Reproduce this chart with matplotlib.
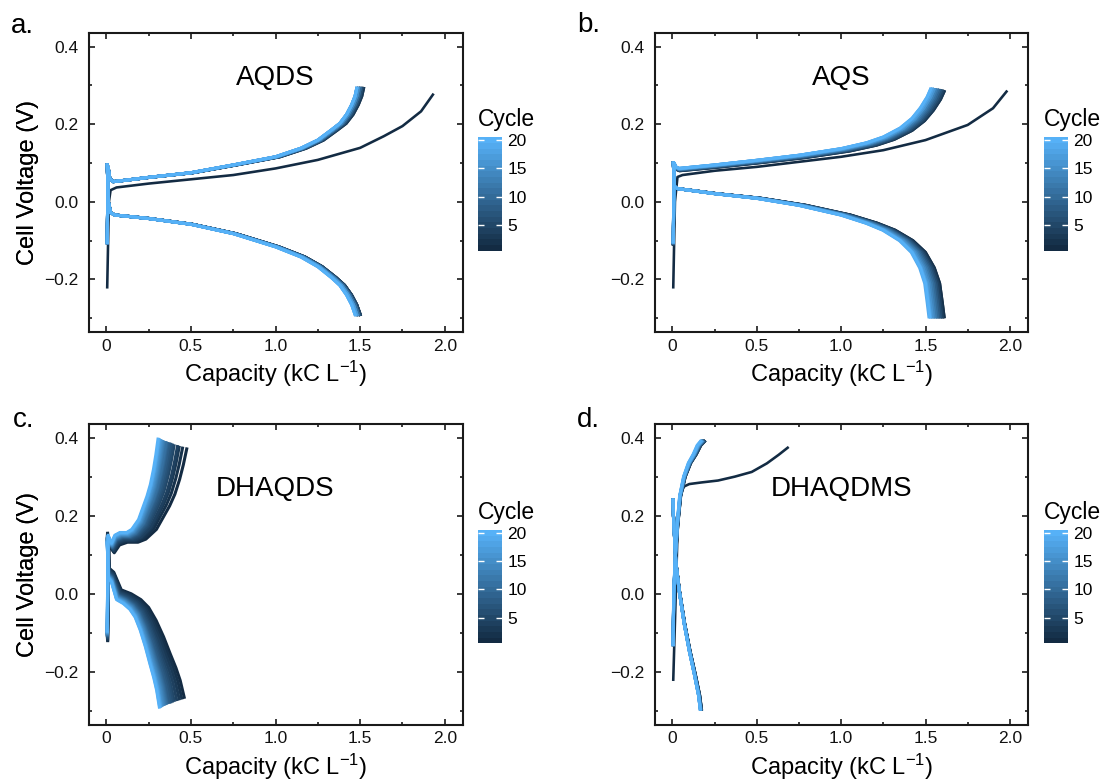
import numpy as np
import matplotlib
matplotlib.use('Agg')
import matplotlib.pyplot as plt
from matplotlib.colors import LinearSegmentedColormap, Normalize
from matplotlib.cm import ScalarMappable

plt.rcParams['font.family'] = ['Liberation Sans', 'DejaVu Sans']
plt.rcParams['mathtext.fontset'] = 'custom'
plt.rcParams['mathtext.rm'] = 'Liberation Sans'
plt.rcParams['mathtext.it'] = 'Liberation Sans:italic'

cycles = list(range(1, 21))

# ---- AQDS (a) ----
aqds_chg1_cap = [0.005, 0.015, 0.025, 0.06, 0.25, 0.5, 0.75, 1.0, 1.25, 1.5, 1.64, 1.75, 1.86, 1.93]
aqds_chg1_v = [-0.22, 0.0, 0.03, 0.037, 0.047, 0.058, 0.069, 0.086, 0.108, 0.139, 0.169, 0.195, 0.233, 0.276]
aqds_chg_cap = [0.005, 0.01, 0.02, 0.04, 0.1, 0.25, 0.5, 0.75, 1.0, 1.15, 1.25, 1.33, 1.38, 1.42, 1.45, 1.47, 1.48]
aqds_chg_v = [-0.105, 0.09, 0.06, 0.052, 0.055, 0.063, 0.075, 0.095, 0.116, 0.138, 0.159, 0.185, 0.202, 0.225, 0.25, 0.272, 0.292]
aqds_dis_cap = [0.005, 0.012, 0.025, 0.05, 0.25, 0.5, 0.75, 1.0, 1.15, 1.25, 1.33, 1.38, 1.42, 1.45, 1.47]
aqds_dis_v = [0.095, 0.0, -0.028, -0.034, -0.043, -0.058, -0.082, -0.116, -0.142, -0.167, -0.195, -0.215, -0.24, -0.265, -0.29]
aqds_chg_end = [1.93, 1.52, 1.52, 1.51, 1.51, 1.51, 1.50, 1.50, 1.50, 1.50,
                1.49, 1.49, 1.49, 1.49, 1.49, 1.48, 1.48, 1.48, 1.48, 1.48]
aqds_dis_end = [1.50, 1.50, 1.50, 1.50, 1.50, 1.49, 1.49, 1.49, 1.49, 1.49,
                1.49, 1.48, 1.48, 1.48, 1.48, 1.48, 1.48, 1.47, 1.47, 1.47]

# ---- AQS (b) ----
aqs_chg1_cap = [0.005, 0.015, 0.03, 0.06, 0.25, 0.5, 0.75, 1.0, 1.25, 1.5, 1.75, 1.9, 1.98]
aqs_chg1_v = [-0.22, 0.0, 0.064, 0.069, 0.08, 0.09, 0.103, 0.116, 0.133, 0.159, 0.198, 0.241, 0.284]
aqs_chg_cap = [0.005, 0.01, 0.02, 0.04, 0.25, 0.5, 0.75, 1.0, 1.15, 1.25, 1.35, 1.42, 1.47, 1.51, 1.53]
aqs_chg_v = [-0.103, 0.1, 0.09, 0.086, 0.095, 0.107, 0.12, 0.137, 0.152, 0.167, 0.19, 0.215, 0.242, 0.27, 0.29]
aqs_dis_cap = [0.005, 0.012, 0.03, 0.25, 0.5, 0.75, 1.0, 1.15, 1.25, 1.35, 1.42, 1.47, 1.5, 1.515, 1.525]
aqs_dis_v = [0.1, 0.04, 0.034, 0.021, 0.009, -0.009, -0.034, -0.055, -0.073, -0.1, -0.13, -0.17, -0.21, -0.26, -0.296]
aqs_chg_end = [1.98, 1.61, 1.61, 1.60, 1.60, 1.59, 1.59, 1.58, 1.58, 1.57,
               1.57, 1.56, 1.56, 1.55, 1.55, 1.55, 1.54, 1.54, 1.53, 1.53]
aqs_dis_end = [1.61, 1.61, 1.60, 1.60, 1.59, 1.59, 1.58, 1.58, 1.57, 1.57,
               1.56, 1.56, 1.55, 1.55, 1.54, 1.54, 1.53, 1.53, 1.52, 1.525]
aqs_chg_shift = [0.0, -0.006, -0.006, -0.005, -0.005, -0.004, -0.004, -0.003, -0.003, -0.003,
                 -0.002, -0.002, -0.002, -0.001, -0.001, -0.001, 0.0, 0.0, 0.0, 0.0]

# ---- DHAQDS (c) ----
dhaqds_chg_cap = [0.005, 0.01, 0.02, 0.03, 0.05, 0.08, 0.12, 0.15, 0.19, 0.215, 0.24, 0.26, 0.278, 0.292, 0.305]
dhaqds_chg_v = [-0.095, 0.15, 0.14, 0.13, 0.15, 0.157, 0.157, 0.165, 0.19, 0.22, 0.25, 0.28, 0.318, 0.355, 0.396]
dhaqds_dis_cap = [0.005, 0.012, 0.03, 0.06, 0.1, 0.139, 0.17, 0.2, 0.23, 0.257, 0.28, 0.297, 0.313]
dhaqds_dis_v = [0.13, 0.04, 0.03, -0.015, -0.025, -0.04, -0.06, -0.093, -0.135, -0.179, -0.215, -0.247, -0.29]
dhaqds_chg_end = [0.475, 0.45, 0.43, 0.42, 0.40, 0.39, 0.38, 0.37, 0.36, 0.355,
                  0.35, 0.34, 0.335, 0.33, 0.325, 0.32, 0.315, 0.31, 0.31, 0.305]
dhaqds_dis_end = [0.46, 0.445, 0.43, 0.415, 0.40, 0.39, 0.38, 0.37, 0.36, 0.355,
                  0.35, 0.345, 0.34, 0.335, 0.33, 0.325, 0.32, 0.32, 0.315, 0.313]
dhaqds_chg_shift = [-0.025, -0.023, -0.021, -0.019, -0.017, -0.015, -0.013, -0.012, -0.011, -0.010,
                    -0.009, -0.008, -0.007, -0.006, -0.005, -0.004, -0.003, -0.002, -0.001, 0.0]
dhaqds_dis_shift = [0.025, 0.023, 0.021, 0.019, 0.017, 0.015, 0.013, 0.012, 0.011, 0.010,
                    0.009, 0.008, 0.007, 0.006, 0.005, 0.004, 0.003, 0.002, 0.001, 0.0]

# ---- DHAQDMS (d) ----
dhaqdms_chg1_cap = [0.005, 0.02, 0.033, 0.045, 0.07, 0.1, 0.17, 0.27, 0.37, 0.47, 0.56, 0.63, 0.683]
dhaqdms_chg1_v = [-0.22, 0.0, 0.2, 0.255, 0.275, 0.281, 0.285, 0.29, 0.3, 0.312, 0.334, 0.356, 0.374]
dhaqdms_chg_cap = [0.004, 0.008, 0.018, 0.03, 0.045, 0.07, 0.1, 0.13, 0.155, 0.175]
dhaqdms_chg_v = [-0.13, 0.0, 0.1, 0.18, 0.25, 0.3, 0.335, 0.357, 0.38, 0.39]
dhaqdms_dis_cap = [0.004, 0.006, 0.02, 0.04, 0.07, 0.1, 0.13, 0.155, 0.165]
dhaqdms_dis_v = [0.24, 0.2, 0.08, 0.008, -0.077, -0.146, -0.206, -0.26, -0.295]
dhaqdms_chg_end = [0.683, 0.19, 0.19, 0.188, 0.186, 0.185, 0.183, 0.182, 0.18, 0.179,
                   0.178, 0.177, 0.176, 0.175, 0.174, 0.173, 0.172, 0.17, 0.168, 0.165]
dhaqdms_dis_end = [0.172, 0.172, 0.171, 0.171, 0.170, 0.170, 0.169, 0.169, 0.168, 0.168,
                   0.167, 0.167, 0.166, 0.166, 0.166, 0.165, 0.165, 0.165, 0.165, 0.165]

zeros = [0.0] * 20

panels = [
    ('a.', 'AQDS', 0.30, aqds_chg1_cap, aqds_chg1_v, aqds_chg_cap, aqds_chg_v, aqds_dis_cap, aqds_dis_v,
     aqds_chg_end, aqds_dis_end, zeros, zeros),
    ('b.', 'AQS', 0.30, aqs_chg1_cap, aqs_chg1_v, aqs_chg_cap, aqs_chg_v, aqs_dis_cap, aqs_dis_v,
     aqs_chg_end, aqs_dis_end, aqs_chg_shift, zeros),
    ('c.', 'DHAQDS', 0.25, None, None, dhaqds_chg_cap, dhaqds_chg_v, dhaqds_dis_cap, dhaqds_dis_v,
     dhaqds_chg_end, dhaqds_dis_end, dhaqds_chg_shift, dhaqds_dis_shift),
    ('d.', 'DHAQDMS', 0.25, dhaqdms_chg1_cap, dhaqdms_chg1_v, dhaqdms_chg_cap, dhaqdms_chg_v,
     dhaqdms_dis_cap, dhaqdms_dis_v, dhaqdms_chg_end, dhaqdms_dis_end, zeros, zeros),
]

W, H = 1106, 780
# axes boxes in pixels: left, top, right, bottom
ax_px = [(88.6, 33.3, 462.5, 332.3), (654.7, 33.3, 1027.6, 332.3),
         (88.6, 424.3, 462.5, 725.0), (654.7, 424.3, 1027.6, 725.0)]
cb_px = [(478, 137.3, 502, 250.7), (1044, 137.3, 1068, 250.7),
         (478, 530.0, 502, 643.3), (1044, 530.0, 1068, 643.3)]
lab_px = [(11, 32.7), (577, 32.5), (13, 427.3), (577, 427.3)]

cmap = LinearSegmentedColormap.from_list('cycle', ['#132B43', '#56B1F7'])
norm = Normalize(1, 20)
spine_col = '#1a1a1a'
lw = 2.2

fig = plt.figure(figsize=(W / 100, H / 100), dpi=100)

for i, p in enumerate(panels):
    (lab, name, name_y, c1_cap, c1_v, c_cap, c_v, d_cap, d_v,
     c_end, d_end, c_shift, d_shift) = p
    l, t, r, b = ax_px[i]
    ax = fig.add_axes([l / W, 1 - b / H, (r - l) / W, (b - t) / H])

    c_cap = np.array(c_cap)
    d_cap = np.array(d_cap)
    for k, cyc in enumerate(cycles):
        col = cmap(norm(cyc))
        if cyc == 1 and c1_cap is not None:
            ax.plot(c1_cap, c1_v, color=col, lw=lw * 0.85, solid_joinstyle='round')
        else:
            ax.plot(c_cap * c_end[k] / c_cap[-1], np.array(c_v) + c_shift[k],
                    color=col, lw=lw, solid_joinstyle='round')
        ax.plot(d_cap * d_end[k] / d_cap[-1], np.array(d_v) + d_shift[k],
                color=col, lw=lw, solid_joinstyle='round')

    ax.text(1.0, name_y, name, fontsize=20, ha='center', va='baseline')

    ax.set_xlim(-0.105, 2.105)
    ax.set_ylim(-0.336, 0.434)
    ax.set_xticks([0, 0.5, 1.0, 1.5, 2.0])
    ax.set_xticklabels(['0', '0.5', '1.0', '1.5', '2.0'])
    ax.set_xticks([0.25, 0.75, 1.25, 1.75], minor=True)
    ax.set_yticks([-0.2, 0.0, 0.2, 0.4])
    ax.set_yticklabels(['\u22120.2', '0.0', '0.2', '0.4'])
    ax.set_yticks([-0.3, -0.1, 0.1, 0.3], minor=True)
    ax.tick_params(which='both', direction='in', top=True, right=True,
                   color=spine_col, width=1.2, labelsize=12.5, labelcolor='#111111')
    ax.tick_params(which='major', length=4.5)
    ax.tick_params(which='minor', length=2.5)
    ax.tick_params(axis='x', pad=4.5)
    ax.tick_params(axis='y', pad=7.5)
    for s in ax.spines.values():
        s.set_linewidth(1.5)
        s.set_color(spine_col)

    ax.set_xlabel('Capacity (kC L$^{\u22121}$)', fontsize=17, va='baseline')
    ax.xaxis.set_label_coords(0.5, -(381.7 - 332.3) / 299.0)
    ax.set_ylabel('Cell Voltage (V)', fontsize=17, va='baseline')
    ax.yaxis.set_label_coords(-(l - 33.9) / (r - l), 0.5)

    fig.text(lab_px[i][0] / W, 1 - lab_px[i][1] / H, lab, fontsize=20, va='baseline', ha='left')

    # colourbar
    cl, ct, cr, cbt = cb_px[i]
    cax = fig.add_axes([cl / W, 1 - cbt / H, (cr - cl) / W, (cbt - ct) / H])
    sm = ScalarMappable(norm=norm, cmap=cmap)
    cb = fig.colorbar(sm, cax=cax, boundaries=np.arange(0.5, 21.0, 1.0), values=cycles)
    cb.outline.set_visible(False)
    cb.set_ticks([5, 10, 15, 20])
    cb.minorticks_off()
    cax.tick_params(which='major', direction='in', color='white', length=4.5, width=1,
                    left=True, right=True, labelleft=False, labelright=True,
                    labelsize=12.5, pad=4)
    fig.text(cl / W, 1 - (ct - 11.5) / H, 'Cycle', fontsize=16.5, ha='left', va='baseline')

fig.savefig('out.png', dpi=100)
